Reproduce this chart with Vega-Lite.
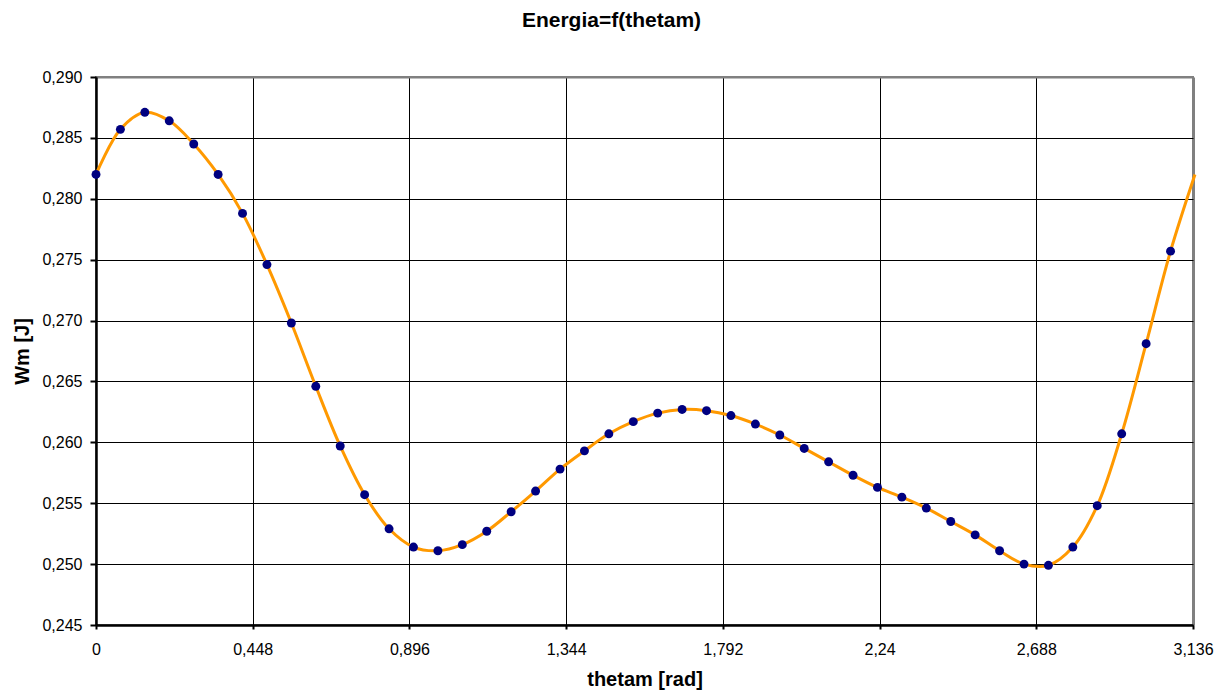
{
  "$schema": "https://vega.github.io/schema/vega-lite/v6.json",
  "width": 1097,
  "height": 548,
  "autosize": {"type": "none"},
  "padding": {"left": 96, "top": 77, "right": 29, "bottom": 66},
  "background": "white",
  "title": {
    "text": "Energia=f(thetam)",
    "font": "Liberation Sans",
    "fontSize": 21,
    "fontWeight": "bold",
    "color": "black",
    "anchor": "middle",
    "frame": "group",
    "dx": -33,
    "baseline": "alphabetic",
    "offset": 21
  },
  "config": {
    "view": {"stroke": "#808080", "strokeWidth": 2},
    "axis": {
      "labelFont": "Liberation Sans",
      "titleFont": "Liberation Sans",
      "labelColor": "black",
      "titleColor": "black",
      "labelFontSize": 16,
      "titleFontSize": 20,
      "titleFontWeight": "bold",
      "domainColor": "black",
      "domainWidth": 2.5,
      "tickColor": "black",
      "tickWidth": 2,
      "gridOpacity": 1
    }
  },
  "data": {
    "values": [
      {"theta": 0.0000, "Wm": 0.2820},
      {"theta": 0.0698, "Wm": 0.2857},
      {"theta": 0.1396, "Wm": 0.2871},
      {"theta": 0.2094, "Wm": 0.2864},
      {"theta": 0.2793, "Wm": 0.2845},
      {"theta": 0.3491, "Wm": 0.2820},
      {"theta": 0.4189, "Wm": 0.2788},
      {"theta": 0.4887, "Wm": 0.2746},
      {"theta": 0.5585, "Wm": 0.2698},
      {"theta": 0.6283, "Wm": 0.2646},
      {"theta": 0.6981, "Wm": 0.2597},
      {"theta": 0.7679, "Wm": 0.2557},
      {"theta": 0.8378, "Wm": 0.2529},
      {"theta": 0.9076, "Wm": 0.2514},
      {"theta": 0.9774, "Wm": 0.2511},
      {"theta": 1.0472, "Wm": 0.2516},
      {"theta": 1.1170, "Wm": 0.2527},
      {"theta": 1.1868, "Wm": 0.2543},
      {"theta": 1.2566, "Wm": 0.2560},
      {"theta": 1.3265, "Wm": 0.2578},
      {"theta": 1.3963, "Wm": 0.2593},
      {"theta": 1.4661, "Wm": 0.2607},
      {"theta": 1.5359, "Wm": 0.2617},
      {"theta": 1.6057, "Wm": 0.2624},
      {"theta": 1.6755, "Wm": 0.2627},
      {"theta": 1.7453, "Wm": 0.2626},
      {"theta": 1.8151, "Wm": 0.2622},
      {"theta": 1.8850, "Wm": 0.2615},
      {"theta": 1.9548, "Wm": 0.2606},
      {"theta": 2.0246, "Wm": 0.2595},
      {"theta": 2.0944, "Wm": 0.2584},
      {"theta": 2.1642, "Wm": 0.2573},
      {"theta": 2.2340, "Wm": 0.2563},
      {"theta": 2.3038, "Wm": 0.2555},
      {"theta": 2.3736, "Wm": 0.2546},
      {"theta": 2.4435, "Wm": 0.2535},
      {"theta": 2.5133, "Wm": 0.2524},
      {"theta": 2.5831, "Wm": 0.2511},
      {"theta": 2.6529, "Wm": 0.2500},
      {"theta": 2.7227, "Wm": 0.2499},
      {"theta": 2.7925, "Wm": 0.2514},
      {"theta": 2.8623, "Wm": 0.2548},
      {"theta": 2.9322, "Wm": 0.2607},
      {"theta": 3.0020, "Wm": 0.2681},
      {"theta": 3.0718, "Wm": 0.2757},
      {"theta": 3.1416, "Wm": 0.2820}
    ]
  },
  "encoding": {
    "x": {
      "field": "theta",
      "type": "quantitative",
      "scale": {"domain": [0, 3.136], "nice": false, "zero": false},
      "axis": {
        "title": "thetam [rad]",
        "values": [0, 0.448, 0.896, 1.344, 1.792, 2.24, 2.688, 3.136],
        "labelExpr": "replace(format(datum.value, '.4~r'), '.', ',')",
        "labelFlush": false,
        "labelOverlap": false,
        "tickSize": 4,
        "labelPadding": 12,
        "titlePadding": 12,
        "grid": true,
        "gridColor": {"condition": {"test": "datum.value > 3.1", "value": "#808080"}, "value": "black"},
        "gridWidth": {"condition": {"test": "datum.value > 3.1", "value": 3}, "value": 1}
      }
    },
    "y": {
      "field": "Wm",
      "type": "quantitative",
      "scale": {"domain": [0.245, 0.29], "nice": false, "zero": false},
      "axis": {
        "title": "Wm [J]",
        "values": [0.245, 0.25, 0.255, 0.26, 0.265, 0.27, 0.275, 0.28, 0.285, 0.29],
        "labelExpr": "replace(format(datum.value, '.3f'), '.', ',')",
        "labelFlush": false,
        "labelOverlap": false,
        "tickSize": 6,
        "labelPadding": 8,
        "titlePadding": 9,
        "grid": true,
        "gridColor": {"condition": {"test": "datum.value > 0.2899", "value": "#808080"}, "value": "black"},
        "gridWidth": {"condition": {"test": "datum.value > 0.2899", "value": 2}, "value": 1}
      }
    }
  },
  "layer": [
    {
      "mark": {"type": "line", "color": "#FF9900", "strokeWidth": 3, "interpolate": "catmull-rom", "clip": false}
    },
    {
      "transform": [{"filter": "datum.theta < 3.1"}],
      "mark": {"type": "point", "filled": true, "color": "#000080", "opacity": 1, "size": 80}
    }
  ]
}
